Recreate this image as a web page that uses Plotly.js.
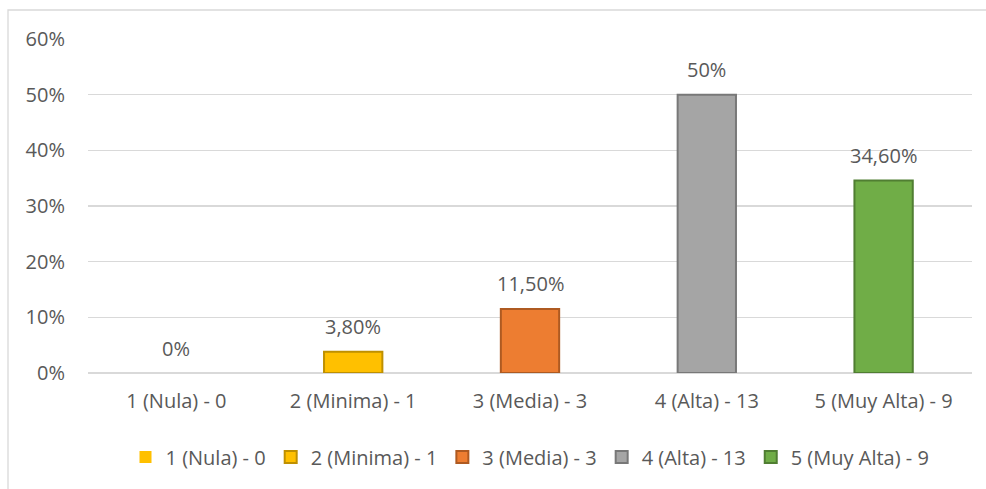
<!DOCTYPE html>
<html>
<head>
<meta charset="utf-8">
<script src="https://cdn.plot.ly/plotly-3.0.1.min.js"></script>
<style>
html,body{margin:0;padding:0;background:#fff;}
#chart{width:986px;height:489px;}
</style>
</head>
<body>
<div id="chart"></div>
<script>
const categories = ["1 (Nula) - 0", "2 (Minima) - 1", "3 (Media) - 3", "4 (Alta) - 13", "5 (Muy Alta) - 9"];
const values = [0, 0.038, 0.115, 0.5, 0.346];
const labels = ["0%", "3,80%", "11,50%", "50%", "34,60%"];
const fillColors = ["#FFC000", "#FFC000", "#ED7D31", "#A5A5A5", "#70AD47"];
const lineColors = ["#FFC000", "#BF9000", "#AE5A21", "#787878", "#507E32"];

const FONT = "Open Sans, Noto Sans, sans-serif";
const TXT = "#595959";
const FS = 20;

const traces = categories.map((c, i) => ({
  type: "bar",
  name: c,
  x: [c],
  y: [values[i]],
  width: 0.33,
  marker: {color: fillColors[i], line: {color: lineColors[i], width: i === 0 ? 0 : 2}},
  hoverinfo: "none"
}));

const annotations = categories.map((c, i) => ({
  x: c, y: values[i], xref: "x", yref: "y",
  text: labels[i], showarrow: false,
  yanchor: "middle", yshift: 25,
  font: {family: FONT, size: FS, color: TXT}
}));

const layout = {
  width: 986, height: 489,
  margin: {l: 88, r: 14, t: 39, b: 116},
  paper_bgcolor: "#fff", plot_bgcolor: "#fff",
  barmode: "overlay",
  font: {family: FONT, size: FS, color: TXT},
  xaxis: {
    type: "category", categoryorder: "array", categoryarray: categories,
    showgrid: false, showline: false, zeroline: false, ticks: "",
    ticklabelstandoff: 14,
    tickfont: {family: FONT, size: FS, color: TXT}
  },
  yaxis: {
    range: [0, 0.6], dtick: 0.1, tickformat: ".0%",
    showgrid: true, gridcolor: "#D9D9D9", gridwidth: 1.3,
    zeroline: true, zerolinecolor: "#D9D9D9", zerolinewidth: 1.3,
    showline: false, ticks: "", ticklabelstandoff: 22,
    tickfont: {family: FONT, size: FS, color: TXT}
  },
  legend: {
    orientation: "h", x: 0.5, xanchor: "center", y: -0.2515, yanchor: "middle",
    font: {family: FONT, size: FS, color: TXT},
    itemclick: false, itemdoubleclick: false, traceorder: "normal",
    itemwidth: 30
  },
  shapes: [{
    type: "rect", xref: "paper", yref: "paper",
    x0: -0.0905, x1: 1.2, y0: -1, y1: 1.0868,
    line: {color: "#D9D9D9", width: 1.3}, fillcolor: "rgba(0,0,0,0)", layer: "below"
  }],
  annotations: annotations,
  showlegend: true
};

Plotly.newPlot("chart", traces, layout, {staticPlot: true, displayModeBar: false});
</script>
</body>
</html>
